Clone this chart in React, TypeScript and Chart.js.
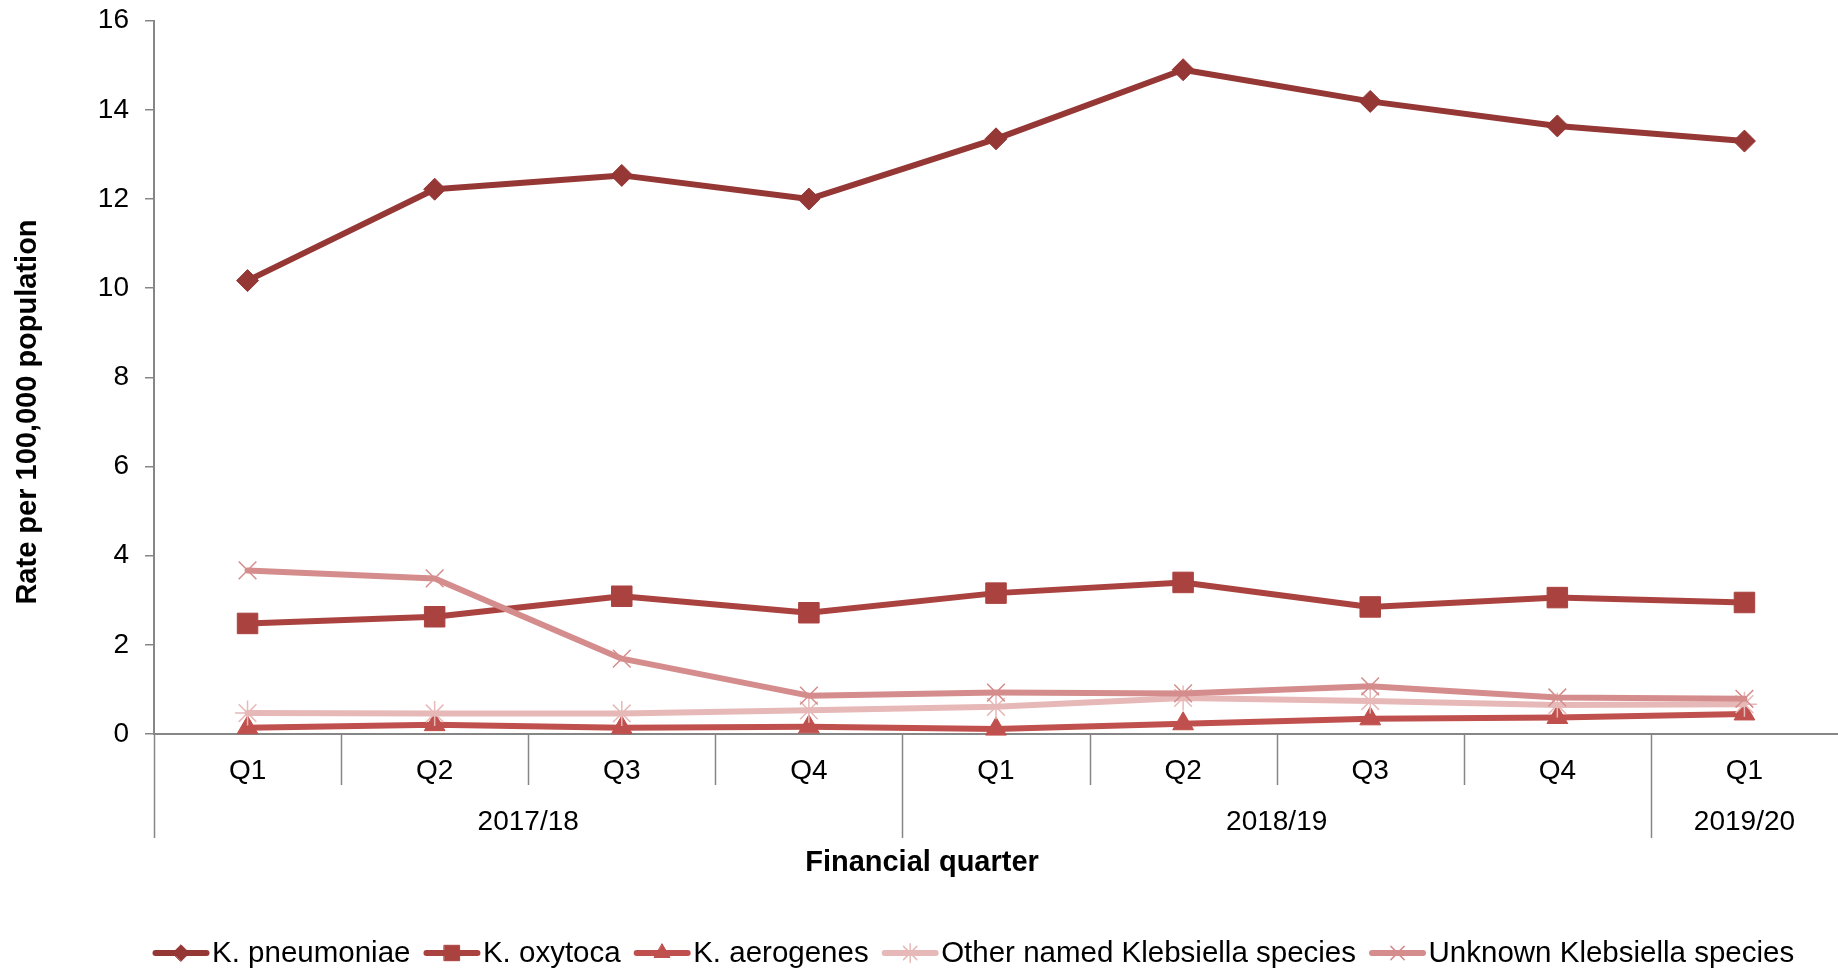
import React, { useEffect, useRef } from 'react';
import { Chart, registerables } from 'chart.js';
import { drawPoint } from 'chart.js/helpers';

Chart.register(...registerables);

// Categories: financial quarters, grouped by financial year
const quarters = ['Q1', 'Q2', 'Q3', 'Q4', 'Q1', 'Q2', 'Q3', 'Q4', 'Q1'];
const years = ['2017/18', '2018/19', '2019/20'];
const quartersPerYear = [4, 4, 1];

// Rate per 100,000 population
const pneumoniae = [10.17, 12.22, 12.53, 12.0, 13.35, 14.9, 14.19, 13.64, 13.3];
const oxytoca = [2.48, 2.63, 3.09, 2.72, 3.16, 3.4, 2.85, 3.06, 2.95];
const aerogenes = [0.14, 0.21, 0.14, 0.16, 0.11, 0.23, 0.34, 0.37, 0.45];
const otherNamed = [0.47, 0.46, 0.46, 0.53, 0.61, 0.81, 0.74, 0.65, 0.67];
const unknown = [3.67, 3.49, 1.69, 0.86, 0.93, 0.91, 1.07, 0.82, 0.79];

const yMin = 0;
const yMax = 16;
const yStep = 2;

const seriesNames = [
  'K. pneumoniae',
  'K. oxytoca',
  'K. aerogenes',
  'Other named Klebsiella species',
  'Unknown Klebsiella species',
];
const seriesValues = [pneumoniae, oxytoca, aerogenes, otherNamed, unknown];

const FONT = '"Liberation Sans", Arial, sans-serif';
const AXIS_GREY = '#868686';

const seriesStyles = [
  { color: '#953735', pointStyle: 'rectRot', radius: 11, pointBorderWidth: 1 },
  { color: '#AA4340', pointStyle: 'rect', radius: 14.5, pointBorderWidth: 1 },
  { color: '#C0504D', pointStyle: 'triangle', radius: 12, pointBorderWidth: 1 },
  { color: '#E6B9B8', pointStyle: 'star', radius: 12.5, pointBorderWidth: 1.5 },
  { color: '#D48D8C', pointStyle: 'crossRot', radius: 12.5, pointBorderWidth: 1.5 },
];

const zeroPadding = (scale: any) => {
  scale.paddingTop = 0;
  scale.paddingBottom = 0;
  scale.paddingLeft = 0;
  scale.paddingRight = 0;
};

const decorPlugin = {
  id: 'decor',
  afterDraw(chart: any) {
    const { ctx, chartArea, scales } = chart;
    const xs = scales.x;
    const bandW = xs.width / quarters.length;
    const axisY = chartArea.bottom;

    ctx.save();

    // Category separators below the axis: long at year boundaries, short between quarters
    const yearStarts = new Set<number>();
    let acc = 0;
    quartersPerYear.forEach((n) => {
      yearStarts.add(acc);
      acc += n;
    });
    ctx.strokeStyle = AXIS_GREY;
    ctx.lineWidth = 1.5;
    for (let i = 0; i < quarters.length; i++) {
      const bx = Math.round(xs.getPixelForValue(i) - bandW / 2) + 0.5;
      const len = yearStarts.has(i) ? 104 : 51;
      ctx.beginPath();
      ctx.moveTo(bx, axisY);
      ctx.lineTo(bx, axisY + len);
      ctx.stroke();
    }

    // Quarter labels
    ctx.fillStyle = '#000';
    ctx.font = `28px ${FONT}`;
    ctx.textAlign = 'center';
    ctx.textBaseline = 'middle';
    quarters.forEach((q, i) => {
      ctx.fillText(q, xs.getPixelForValue(i), axisY + 37);
    });

    // Year labels centred under their quarters
    acc = 0;
    years.forEach((yr, k) => {
      const first = acc;
      const last = acc + quartersPerYear[k] - 1;
      const cx = (xs.getPixelForValue(first) + xs.getPixelForValue(last)) / 2;
      ctx.fillText(yr, cx, axisY + 88);
      acc += quartersPerYear[k];
    });

    // Axis titles
    ctx.font = `bold 29px ${FONT}`;
    ctx.fillText('Financial quarter', 922, 863);
    ctx.save();
    ctx.translate(28, 412);
    ctx.rotate(-Math.PI / 2);
    ctx.fillText('Rate per 100,000 population', 0, 0);
    ctx.restore();

    // Legend: line sample with marker, then name
    const ly = 953;
    let lx = 153.5;
    ctx.font = `29.5px ${FONT}`;
    ctx.textAlign = 'left';
    seriesNames.forEach((name, i) => {
      const st = seriesStyles[i];
      ctx.strokeStyle = st.color;
      ctx.lineWidth = 6;
      ctx.lineCap = 'round';
      ctx.beginPath();
      ctx.moveTo(lx + 2, ly);
      ctx.lineTo(lx + 53, ly);
      ctx.stroke();
      ctx.fillStyle = st.color;
      ctx.lineWidth = st.pointBorderWidth;
      drawPoint(
        ctx,
        { pointStyle: st.pointStyle, radius: st.radius * 0.75, rotation: 0, borderWidth: st.pointBorderWidth } as any,
        lx + 27.5,
        ly
      );
      ctx.fillStyle = '#000';
      ctx.fillText(name, lx + 58.5, ly + 1);
      lx += 58.5 + ctx.measureText(name).width + 14;
    });

    ctx.restore();
  },
};

export default function App() {
  const ref = useRef<HTMLCanvasElement>(null);

  useEffect(() => {
    if (!ref.current) return;
    const datasets = seriesNames.map((name, i) => {
      const st = seriesStyles[i];
      return {
        label: name,
        data: seriesValues[i],
        borderColor: st.color,
        backgroundColor: st.color,
        borderWidth: 6,
        borderCapStyle: 'round' as const,
        borderJoinStyle: 'round' as const,
        pointStyle: st.pointStyle as any,
        pointRadius: st.radius,
        pointHoverRadius: st.radius,
        pointBackgroundColor: st.color,
        pointBorderColor: st.color,
        pointBorderWidth: st.pointBorderWidth,
        tension: 0,
        fill: false,
        clip: false as any,
        order: seriesNames.length - i,
      };
    });

    const chart = new Chart(ref.current, {
      type: 'line',
      data: { labels: quarters, datasets },
      plugins: [decorPlugin],
      options: {
        responsive: false,
        animation: false,
        devicePixelRatio: 1,
        layout: { autoPadding: false, padding: { top: 20.7, left: 0, right: 0, bottom: 0 } },
        plugins: {
          legend: { display: false },
          tooltip: { enabled: false },
          title: { display: false },
        },
        events: [],
        scales: {
          x: {
            type: 'category',
            offset: true,
            grid: { display: false, offset: true },
            border: { display: true, color: AXIS_GREY, width: 2 },
            ticks: { display: false },
            afterFit: (scale: any) => {
              scale.height = 239;
              zeroPadding(scale);
            },
          },
          y: {
            min: yMin,
            max: yMax,
            ticks: {
              stepSize: yStep,
              color: '#000',
              font: { family: FONT, size: 28 },
              padding: 16,
            },
            grid: {
              drawOnChartArea: false,
              drawTicks: true,
              tickLength: 9,
              color: AXIS_GREY,
              lineWidth: 1.5,
            },
            border: { display: true, color: AXIS_GREY, width: 2 },
            afterFit: (scale: any) => {
              scale.width = 154;
              zeroPadding(scale);
            },
          },
        },
      },
    });
    return () => chart.destroy();
  }, []);

  return (
    <div style={{ position: 'fixed', left: 0, top: 0, width: 1838, height: 973, background: '#fff' }}>
      <canvas ref={ref} width={1838} height={973} style={{ display: 'block' }} />
    </div>
  );
}
